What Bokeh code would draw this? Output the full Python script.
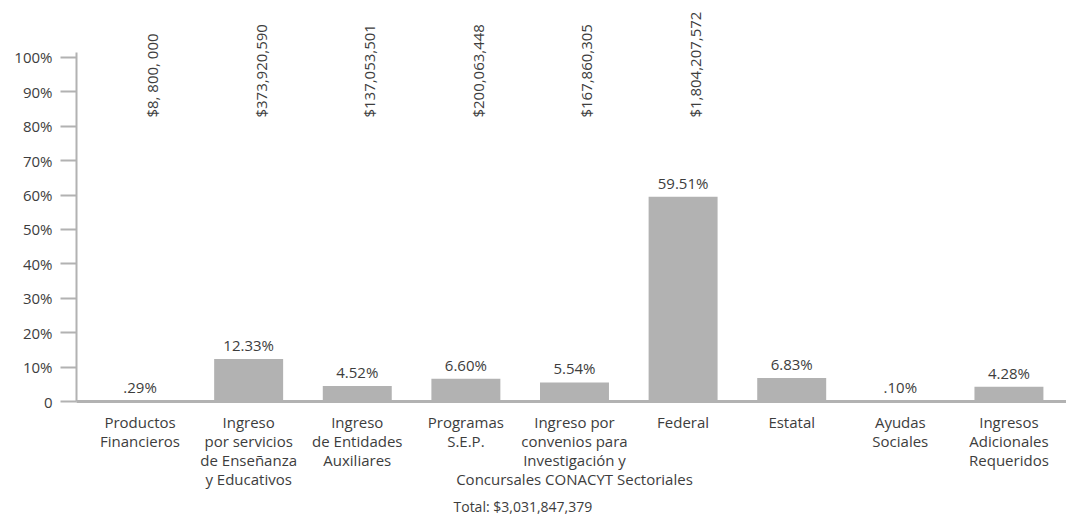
import math
from bokeh.plotting import figure
from bokeh.models import ColumnDataSource, FixedTicker, Title, Range1d
from bokeh.core.properties import value
from bokeh.embed import file_html
from bokeh.resources import INLINE

categories = [
    "Productos\nFinancieros",
    "Ingreso\npor servicios\nde Enseñanza\ny Educativos",
    "Ingreso\nde Entidades\nAuxiliares",
    "Programas\nS.E.P.",
    "Ingreso por\nconvenios para\nInvestigación y\nConcursales CONACYT Sectoriales",
    "Federal",
    "Estatal",
    "Ayudas\nSociales",
    "Ingresos\nAdicionales\nRequeridos",
]
percent_values = [0.29, 12.33, 4.52, 6.60, 5.54, 59.51, 6.83, 0.10, 4.28]
percent_labels = [".29%", "12.33%", "4.52%", "6.60%", "5.54%", "59.51%", "6.83%", ".10%", "4.28%"]
amount_labels = ["$8, 800, 000", "$373,920,590", "$137,053,501", "$200,063,448",
                 "$167,860,305", "$1,804,207,572"]
y_ticks = [0, 10, 20, 30, 40, 50, 60, 70, 80, 90, 100]
y_tick_labels = ["0", "10%", "20%", "30%", "40%", "50%", "60%", "70%", "80%", "90%", "100%"]
total_label = "Total: $3,031,847,379"

FONT = "Open Sans"
TXT = "#3d3d3d"
GRAY = "#b2b2b2"

xs = list(range(len(categories)))
src = ColumnDataSource(dict(x=xs, top=percent_values, lab=percent_labels))
amt_src = ColumnDataSource(dict(x=xs[:len(amount_labels)], lab=amount_labels,
                                y=[82.5] * len(amount_labels)))

p = figure(width=1066, height=525, output_backend="svg", toolbar_location=None,
           x_range=Range1d(-0.585, 8.53), y_range=Range1d(0, 114.2),
           min_border_left=76, min_border_right=0, min_border_top=8, min_border_bottom=124)
p.outline_line_color = None
p.grid.visible = False
p.background_fill_color = "white"
p.border_fill_color = "white"

p.vbar(x="x", top="top", bottom=0, width=0.635, source=src, fill_color=GRAY, line_color=None)

p.text(x="x", y="top", text="lab", source=src, y_offset=-4, text_align="center",
       text_baseline="bottom", text_font=value(FONT), text_font_size="15px", text_color=TXT)

p.text(x="x", y="y", text="lab", source=amt_src, x_offset=12, angle=math.pi / 2,
       text_align="left", text_baseline="middle", text_font=value(FONT),
       text_font_size="15px", text_color=TXT)

# y axis
ya = p.yaxis[0]
ya.ticker = FixedTicker(ticks=y_ticks)
ya.major_label_overrides = {t: l for t, l in zip(y_ticks, y_tick_labels)}
ya.bounds = (0, 101.5)
ya.axis_line_color = GRAY
ya.axis_line_width = 2
ya.major_tick_line_color = GRAY
ya.major_tick_line_width = 2
ya.major_tick_out = 16
ya.major_tick_in = 0
ya.minor_tick_line_color = None
ya.major_label_standoff = 8
ya.major_label_text_font = FONT
ya.major_label_text_font_size = "15px"
ya.major_label_text_color = TXT

# x axis
xa = p.xaxis[0]
xa.ticker = FixedTicker(ticks=xs)
xa.major_label_overrides = {i: c for i, c in zip(xs, categories)}
xa.axis_line_color = GRAY
xa.axis_line_width = 3
xa.major_tick_line_color = None
xa.minor_tick_line_color = None
xa.major_label_standoff = 4
xa.major_label_text_font = FONT
xa.major_label_text_font_size = "15px"
xa.major_label_text_color = TXT
xa.major_label_text_align = "center"
xa.major_label_text_line_height = 0.95

p.add_layout(Title(text=total_label, align="left", offset=377, text_font=FONT,
                   text_font_size="14px", text_font_style="normal", text_color=TXT,
                   standoff=6), "below")

open("out.html", "w").write(file_html(p, INLINE))
